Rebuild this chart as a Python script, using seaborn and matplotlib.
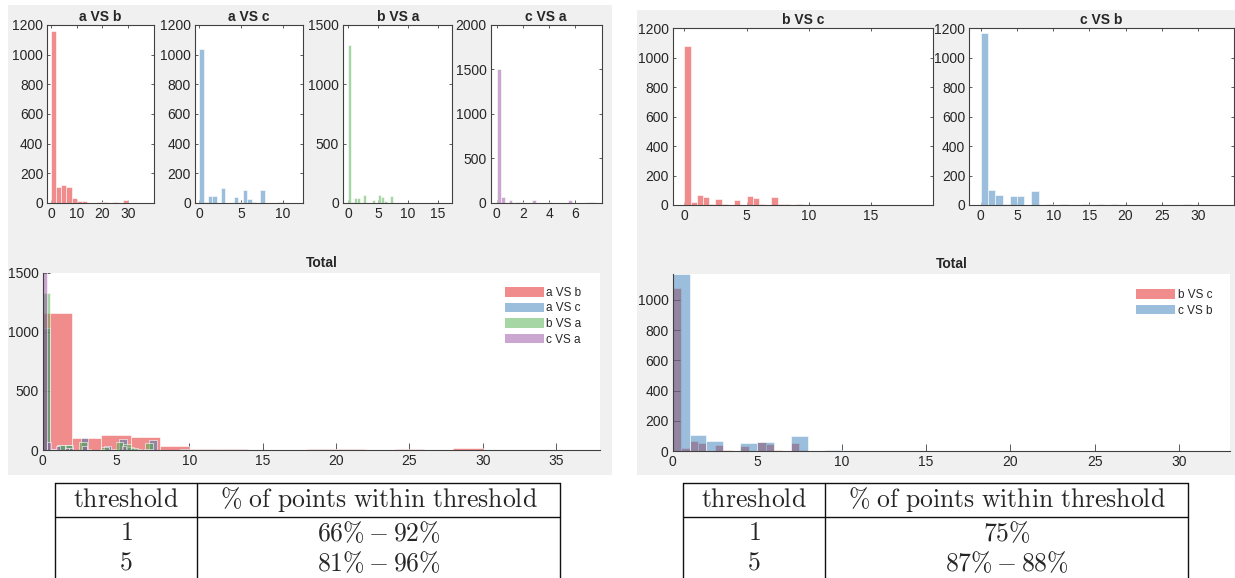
import numpy as np
import pandas as pd
import matplotlib
matplotlib.use('Agg')
import matplotlib.pyplot as plt
from matplotlib.patches import Rectangle, Patch
import seaborn as sns

# histogram counts (bins start at 0, fixed width per series)
ab_width = 2.0
ab_counts = [1160, 105, 123, 108, 35, 12, 12, 1, 3, 6, 6, 1, 10, 0, 20, 0, 1, 0, 2]

ac_width = 0.52
ac_counts = [1035, 8, 45, 45, 0, 103, 0, 3, 38, 5, 90, 25, 8, 0, 85, 3, 3, 0, 7, 2, 0, 0, 1]

ba_width = 0.5
ba_counts = [1330, 5, 45, 45, 0, 65, 0, 0, 28, 0, 70, 50, 15, 0, 55, 0, 0, 2, 0, 3,
             0, 0, 0, 0, 0, 0, 0, 0, 0, 2, 0, 0, 0, 1]

ca_width = 0.3
ca_counts = [1510, 65, 5, 35, 3, 15, 15, 3, 0, 35, 5, 0, 3, 10, 2, 0, 0, 2, 35, 3,
             0, 0, 0, 8, 8, 2]

bc_width = 0.5
bc_counts = [1080, 20, 65, 55, 5, 40, 8, 0, 35, 0, 60, 45, 10, 0, 55, 8, 5, 3, 5, 2,
             0, 3, 2, 3, 0, 0, 3, 0, 2, 0, 0, 0, 0, 2, 0, 0, 0, 0, 3]

cb_width = 1.0
cb_counts = [1170, 105, 65, 5, 58, 60, 0, 98, 3, 8, 2, 5, 0, 3, 5, 3, 5, 0, 5, 0,
             0, 2, 0, 0, 0, 2, 0, 0, 5, 0, 0, 0, 2]

left_names = ['a VS b', 'a VS c', 'b VS a', 'c VS a']
right_names = ['b VS c', 'c VS b']

thresholds = ['1', '5']
left_within = [r'66\% - 92\%', r'81\% - 96\%']
right_within = [r'75\%', r'87\% - 88\%']

sns.set_style('ticks')
plt.rcParams['font.family'] = ['Liberation Sans', 'DejaVu Sans']
plt.rcParams['mathtext.fontset'] = 'cm'
plt.rcParams['axes.edgecolor'] = '#404040'
plt.rcParams['axes.linewidth'] = 0.8
plt.rcParams['xtick.color'] = '#404040'
plt.rcParams['ytick.color'] = '#404040'
plt.rcParams['xtick.labelcolor'] = '#262626'
plt.rcParams['ytick.labelcolor'] = '#262626'

pal = sns.color_palette('Set1')
W, H = 1235, 578


def rect(l, t, r, b):
    return [l / W, 1 - b / H, (r - l) / W, (b - t) / H]


def draw_hist(ax, counts, width, color):
    counts = np.asarray(counts, dtype=float)
    edges = np.arange(len(counts) + 1) * width
    df = pd.DataFrame({'value': edges[:-1] + width / 2, 'count': counts})
    sns.histplot(data=df, x='value', weights='count', bins=edges.tolist(), color=color,
                 alpha=0.5, edgecolor='white', linewidth=0.4, ax=ax)
    ax.set_xlabel('')
    ax.set_ylabel('')


def small_axes(ax, title, xlim, xticks, ylim, yticks):
    ax.set_xlim(*xlim)
    ax.set_ylim(*ylim)
    ax.set_xticks(xticks)
    ax.set_yticks(yticks)
    ax.set_title(title, fontsize=10, fontweight='bold', pad=3)
    for s in ax.spines.values():
        s.set_visible(True)
    ax.tick_params(direction='in', top=True, right=True, length=2.5, width=0.6,
                   labelsize=10, pad=3)


def total_axes(ax, xlim, xticks, ylim, yticks):
    ax.set_xlim(*xlim)
    ax.set_ylim(*ylim)
    ax.set_xticks(xticks)
    ax.set_yticks(yticks)
    ax.set_title('Total', fontsize=10, fontweight='bold', pad=4)
    ax.spines['top'].set_visible(False)
    ax.spines['right'].set_visible(False)
    ax.tick_params(direction='in', length=5, width=0.6, labelsize=10, pad=3)


fig = plt.figure(figsize=(W / 100, H / 100), dpi=100)

# background panels and tables drawn in pixel coordinates
bg = fig.add_axes([0, 0, 1, 1])
bg.set_xlim(0, W)
bg.set_ylim(H, 0)
bg.axis('off')
bg.set_zorder(0)
bg.add_patch(Rectangle((8, 5), 604, 470, facecolor='#f0f0f0', lw=0))
bg.add_patch(Rectangle((637, 10), 598, 465, facecolor='#f0f0f0', lw=0))

# ---- left panel ----
left_series = [(ab_counts, ab_width), (ac_counts, ac_width),
               (ba_counts, ba_width), (ca_counts, ca_width)]
left_boxes = [(47.3, 154), (195, 303.3), (343.3, 452.3), (490.7, 601.7)]
left_lims = [((-1.4, 40), [0, 10, 20, 30], (0, 1200), range(0, 1201, 200)),
             ((-0.5, 12.4), [0, 5, 10], (0, 1200), range(0, 1201, 200)),
             ((-0.84, 17.4), [0, 5, 10, 15], (0, 1500), range(0, 1501, 500)),
             ((-0.46, 8.0), [0, 2, 4, 6], (0, 2000), range(0, 2001, 500))]

for i, name in enumerate(left_names):
    l, r = left_boxes[i]
    ax = fig.add_axes(rect(l, 25, r, 203))
    ax.set_zorder(1)
    counts, width = left_series[i]
    draw_hist(ax, counts, width, pal[i])
    small_axes(ax, name, *left_lims[i])

axL = fig.add_axes(rect(42.7, 272.7, 600, 450))
axL.set_zorder(1)
for i, (counts, width) in enumerate(left_series):
    draw_hist(axL, counts, width, pal[i])
total_axes(axL, (0, 38), range(0, 36, 5), (0, 1500), range(0, 1501, 500))
handles = [Patch(facecolor=pal[i], alpha=0.5, edgecolor='none') for i in range(4)]
axL.legend(handles, left_names, loc='upper right', bbox_to_anchor=(0.967, 0.92),
           frameon=False, fontsize=8.5, handlelength=3.3, handleheight=0.85,
           labelspacing=0.3, handletextpad=0.25, borderpad=0, borderaxespad=0)

# ---- right panel ----
right_series = [(bc_counts, bc_width), (cb_counts, cb_width)]
right_boxes = [(672.7, 933.3), (969.3, 1234)]
right_lims = [((-0.93, 20), [0, 5, 10, 15], (0, 1200), range(0, 1201, 200)),
              ((-1.6, 35), range(0, 31, 5), (0, 1200), range(0, 1201, 200))]

for i, name in enumerate(right_names):
    l, r = right_boxes[i]
    ax = fig.add_axes(rect(l, 28.3, r, 205))
    ax.set_zorder(1)
    counts, width = right_series[i]
    draw_hist(ax, counts, width, pal[i])
    small_axes(ax, name, *right_lims[i])

axR = fig.add_axes(rect(672.7, 274, 1230, 451.3))
axR.set_zorder(1)
for i, (counts, width) in enumerate(right_series):
    draw_hist(axR, counts, width, pal[i])
total_axes(axR, (0, 33), range(0, 31, 5), (0, 1170), range(0, 1001, 200))
handles = [Patch(facecolor=pal[i], alpha=0.5, edgecolor='none') for i in range(2)]
axR.legend(handles, right_names, loc='upper right', bbox_to_anchor=(0.969, 0.915),
           frameon=False, fontsize=8.5, handlelength=3.3, handleheight=0.85,
           labelspacing=0.3, handletextpad=0.25, borderpad=0, borderaxespad=0)

# ---- tables ----
header_left = r'$\mathrm{threshold}$'
header_right = r'$\%\ \mathrm{of\ points\ within\ threshold}$'
for (x0, x1, xd), values in [((55, 560, 197), left_within),
                             ((683, 1188, 825), right_within)]:
    kw = dict(color='#111111', lw=1.0)
    bg.plot([x0, x1], [483, 483], **kw)
    bg.plot([x0, x1], [517, 517], **kw)
    for x in (x0, xd, x1):
        bg.plot([x, x], [483, 578], **kw)
    c1 = (x0 + xd) / 2
    c2 = (xd + x1) / 2
    bg.text(c1, 500, header_left, ha='center', va='center', fontsize=18.5)
    bg.text(c2, 500, header_right, ha='center', va='center', fontsize=18.5)
    for j, (t, v) in enumerate(zip(thresholds, values)):
        y = 533 + 30 * j
        bg.text(c1, y, '$' + t + '$', ha='center', va='center', fontsize=18.5)
        bg.text(c2, y, '$' + v + '$', ha='center', va='center', fontsize=18.5)

fig.savefig('out.png', dpi=100)
